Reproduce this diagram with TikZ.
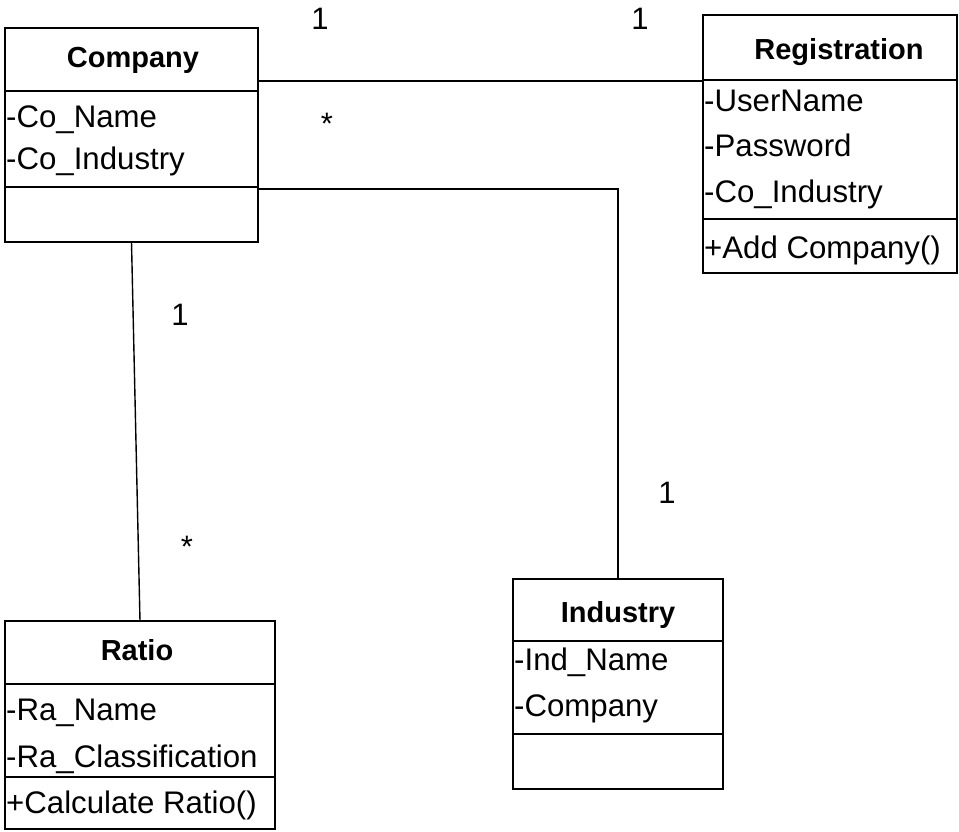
\documentclass[tikz,border=0pt]{standalone}
\usepackage{fontspec}
\setmainfont{Liberation Sans}
\begin{document}
\begin{tikzpicture}[x=1pt,y=-1pt,
  box/.style={draw,line width=1.8pt,inner sep=0pt,outer sep=0pt},
  sep/.style={line width=1.8pt},
  conn/.style={line width=1.4pt},
  title/.style={font=\fontsize{29}{29}\selectfont\bfseries,anchor=base,inner sep=0pt},
  attr/.style={font=\fontsize{31.2}{31.2}\selectfont,anchor=base west,inner sep=0pt},
  mult/.style={font=\fontsize{31}{31}\selectfont,anchor=base,inner sep=0pt}]
\useasboundingbox (0,0) rectangle (959,832);

% class boxes
\node[box,minimum width=253pt,minimum height=214pt] (company) at (131.5,135) {};
\node[box,minimum width=254pt,minimum height=258pt] (registration) at (830,144) {};
\node[box,minimum width=270pt,minimum height=208pt] (ratio) at (140,725) {};
\node[box,minimum width=210pt,minimum height=210pt] (industry) at (618,684) {};

% compartments
\draw[sep] (company.west |- 0,91) -- (company.east |- 0,91);
\draw[sep] (company.west |- 0,187) -- (company.east |- 0,187);
\draw[sep] (registration.west |- 0,80) -- (registration.east |- 0,80);
\draw[sep] (registration.west |- 0,219) -- (registration.east |- 0,219);
\draw[sep] (ratio.west |- 0,684) -- (ratio.east |- 0,684);
\draw[sep] (ratio.west |- 0,777) -- (ratio.east |- 0,777);
\draw[sep] (industry.west |- 0,641) -- (industry.east |- 0,641);
\draw[sep] (industry.west |- 0,734) -- (industry.east |- 0,734);

% texts
\node[title] (tcompany) at (133,68) {Company};
\node[attr] (c1) at (6,128) {-Co\_Name};
\node[attr] (c2) at (6,170) {-Co\_Industry};

\node[title] (tregistration) at (839,60) {Registration};
\node[attr] (r1) at (704,112) {-UserName};
\node[attr] (r2) at (704,157) {-Password};
\node[attr] (r3) at (704,202) {-Co\_Industry};
\node[attr] (r4) at (704,258) {+Add Company()};

\node[title] (tratio) at (137,660) {Ratio};
\node[attr] (a1) at (6,720) {-Ra\_Name};
\node[attr] (a2) at (6,767) {-Ra\_Classification};
\node[attr] (a3) at (6,813) {+Calculate Ratio()};

\node[title] (tindustry) at (618,622) {Industry};
\node[attr] (i1) at (514,670) {-Ind\_Name};
\node[attr] (i2) at (514,716) {-Company};

% connectors
\coordinate (cr) at (company.east |- 0,81);
\coordinate (rc) at (registration.west |- 0,81);
\draw[conn] (cr) -- (rc);
\coordinate (ci) at (company.east |- 0,189);
\draw[conn] (ci) -| (industry.north);
\draw[conn] (company.south) -- (ratio.north);

% multiplicities
\node[mult] (m1) at (320,30) {1};
\node[mult] (m2) at (640,30) {1};
\node[mult] (m3) at (327,135) {*};
\node[mult] (m4) at (180,325) {1};
\node[mult] (m5) at (187,557) {*};
\node[mult] (m6) at (667,503) {1};
\end{tikzpicture}
\end{document}
